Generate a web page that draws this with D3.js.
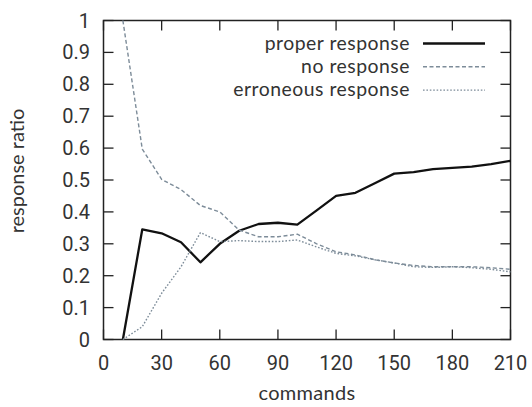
<!DOCTYPE html>
<html><head><meta charset="utf-8">
<script src="https://cdn.jsdelivr.net/npm/d3@7"></script>
<style>body{margin:0;background:#fff}</style>
</head><body>
<svg id="c" width="532" height="407"></svg>
<script>
const commands = [10,20,30,40,50,60,70,80,90,100,110,120,130,140,150,160,170,180,190,200,210];
const properResponse = [0,0.345,0.333,0.305,0.242,0.30,0.341,0.362,0.366,0.36,0.405,0.45,0.46,0.49,0.52,0.525,0.534,0.538,0.542,0.55,0.56];
const noResponse = [1.0,0.597,0.502,0.47,0.42,0.40,0.343,0.322,0.322,0.33,0.30,0.275,0.265,0.25,0.24,0.232,0.228,0.228,0.228,0.225,0.22];
const erroneousResponse = [0,0.04,0.145,0.228,0.335,0.307,0.31,0.307,0.307,0.312,0.29,0.27,0.262,0.25,0.24,0.228,0.226,0.228,0.225,0.22,0.212];
const xTicks = [0,30,60,90,120,150,180,210];
const yTicks = [0,0.1,0.2,0.3,0.4,0.5,0.6,0.7,0.8,0.9,1];
const seriesNames = ["proper response","no response","erroneous response"];

const L=103.5,R=510.5,T=20.5,B=339.5;
const svg=d3.select("#c");
const x=d3.scaleLinear().domain([0,210]).range([L,R]);
const y=d3.scaleLinear().domain([0,1]).range([B,T]);
const tickFont="Roboto, sans-serif";
const txtFont="Lato, sans-serif";
const axCol="#222";

svg.append("rect").attr("x",L).attr("y",T).attr("width",R-L).attr("height",B-T)
  .attr("fill","none").attr("stroke",axCol).attr("stroke-width",1.5);

const tl=10;
xTicks.forEach(v=>{
  svg.append("line").attr("x1",x(v)).attr("x2",x(v)).attr("y1",B).attr("y2",B-tl).attr("stroke",axCol).attr("stroke-width",1.3);
  svg.append("line").attr("x1",x(v)).attr("x2",x(v)).attr("y1",T).attr("y2",T+tl).attr("stroke",axCol).attr("stroke-width",1.3);
  svg.append("text").attr("x",x(v)).attr("y",370).attr("text-anchor","middle")
    .attr("font-family",tickFont).attr("font-size",20).attr("fill","#333").text(v);
});
yTicks.forEach(v=>{
  svg.append("line").attr("x1",L).attr("x2",L+tl).attr("y1",y(v)).attr("y2",y(v)).attr("stroke",axCol).attr("stroke-width",1.3);
  svg.append("line").attr("x1",R).attr("x2",R-tl).attr("y1",y(v)).attr("y2",y(v)).attr("stroke",axCol).attr("stroke-width",1.3);
  svg.append("text").attr("x",90).attr("y",y(v)+7).attr("text-anchor","end")
    .attr("font-family",tickFont).attr("font-size",20).attr("fill","#333").text(v);
});

svg.append("text").attr("x",307).attr("y",400).attr("text-anchor","middle")
  .attr("font-family",txtFont).attr("font-size",20).attr("letter-spacing",0.3).attr("fill","#333").text("commands");
svg.append("text").attr("transform","translate(24,171) rotate(-90)").attr("text-anchor","middle")
  .attr("font-family",txtFont).attr("font-size",20).attr("fill","#333").text("response ratio");

const styles=[
  {data:properResponse,color:"#111",w:2.3,dash:null},
  {data:noResponse,color:"#7d8c99",w:1.4,dash:"4,2.5"},
  {data:erroneousResponse,color:"#7d8c99",w:1.4,dash:"1.6,1.8"}
];
const line=d3.line().x(d=>x(d[0])).y(d=>y(d[1]));
styles.forEach(s=>{
  svg.append("path").datum(commands.map((c,i)=>[c,s.data[i]]))
    .attr("d",line).attr("fill","none").attr("stroke",s.color).attr("stroke-width",s.w)
    .attr("stroke-dasharray",s.dash).attr("stroke-linejoin","round");
});

seriesNames.forEach((n,i)=>{
  const yy=43.5+i*23.3;
  svg.append("text").attr("x",410).attr("y",yy+6).attr("text-anchor","end")
    .attr("font-family",txtFont).attr("font-size",19.4).attr("letter-spacing",0.5).attr("fill","#333").text(n);
  svg.append("line").attr("x1",423).attr("x2",485).attr("y1",yy).attr("y2",yy)
    .attr("stroke",styles[i].color).attr("stroke-width",styles[i].w).attr("stroke-dasharray",styles[i].dash);
});
</script>
</body></html>
